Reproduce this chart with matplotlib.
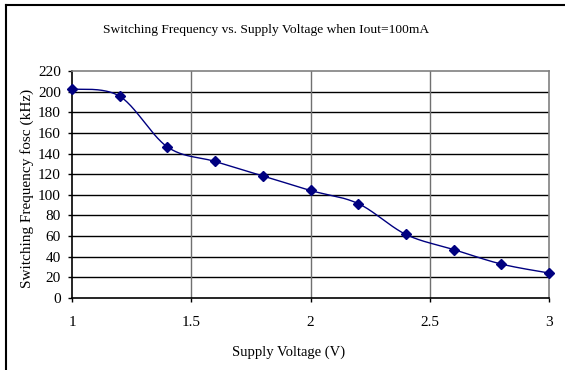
import numpy as np
import matplotlib
matplotlib.use("Agg")
import matplotlib.pyplot as plt
from matplotlib.lines import Line2D

# Measured switching frequency at Iout = 100 mA
voltage = [1.0, 1.2, 1.4, 1.6, 1.8, 2.0, 2.2, 2.4, 2.6, 2.8, 3.0]
freq_khz = [202.6, 195.5, 146.4, 132.3, 118.4, 104.2, 91.5, 61.6, 47.0, 32.9, 24.2]

x_ticks = [1, 1.5, 2, 2.5, 3]
y_ticks = list(range(0, 221, 20))

title = "Switching Frequency vs. Supply Voltage when Iout=100mA"
x_label = "Supply Voltage (V)"
y_label = "Switching Frequency fosc (kHz)"

W, H, DPI = 565, 370, 100
plt.rcParams["font.family"] = ["Liberation Serif", "DejaVu Serif"]

fig = plt.figure(figsize=(W / DPI, H / DPI), dpi=DPI)
ax = fig.add_axes([72 / W, 1 - 298 / H, (549 - 72) / W, (298 - 71) / H])

navy = "#000080"


def smooth_curve(xs, ys, sx, sy, n=40):
    """Bezier smoothing through every point (tension 1/6), done in screen-like units."""
    px = np.asarray(xs, float) * sx
    py = np.asarray(ys, float) * sy
    P = np.column_stack([px, py])
    Pe = np.vstack([P[0], P, P[-1]])
    t = np.linspace(0, 1, n)[:, None]
    out = []
    for i in range(len(P) - 1):
        p0 = Pe[i + 1]
        p3 = Pe[i + 2]
        c1 = p0 + (Pe[i + 2] - Pe[i]) / 6.0
        c2 = p3 - (Pe[i + 3] - Pe[i + 1]) / 6.0
        seg = ((1 - t) ** 3) * p0 + 3 * ((1 - t) ** 2) * t * c1 + 3 * (1 - t) * t ** 2 * c2 + t ** 3 * p3
        out.append(seg if i == 0 else seg[1:])
    out = np.vstack(out)
    return out[:, 0] / sx, out[:, 1] / sy


# scale factors: pixels per data unit on each axis
sx = (549 - 72) / 2.0
sy = (298 - 71) / 220.0
cx, cy = smooth_curve(voltage, freq_khz, sx, sy)

ax.set_xlim(1, 3)
ax.set_ylim(0, 220)
ax.set_xticks(x_ticks)
ax.set_xticklabels(["1", "1.5", "2", "2.5", "3"])
ax.set_yticks(y_ticks)

# grid: black horizontal, grey vertical
for yv in y_ticks[1:-1]:
    ax.axhline(yv, color="black", lw=1.0, zorder=1)
for xv in x_ticks[1:-1]:
    ax.axvline(xv, color="#707070", lw=1.0, zorder=1)

ax.plot(cx, cy, color=navy, lw=1.0, zorder=3, clip_on=False)
ax.plot(voltage, freq_khz, linestyle="none", marker="D", markersize=5,
        color=navy, zorder=4, clip_on=False)

ax.spines["left"].set_color("black")
ax.spines["bottom"].set_color("black")
ax.spines["top"].set_color("#808080")
ax.spines["right"].set_color("#808080")
for s in ax.spines.values():
    s.set_linewidth(1.2)

ax.tick_params(axis="both", direction="out", length=3, width=1, color="black",
               labelsize=11, pad=5)
ax.tick_params(axis="x", pad=10)

# axis titles placed by figure pixel position
fig.text(289 / W, 1 - 352 / H, x_label, ha="center", va="center", fontsize=10.5)
fig.text(27 / W, 1 - 188 / H, y_label, ha="center", va="center", fontsize=11,
         rotation=90)

fig.text(266 / W, 1 - 30 / H, title, ha="center", va="center", fontsize=9.7)

# outer chart-area frame (left and top edges)
fig.add_artist(Line2D([5.5 / W, 5.5 / W], [0, 1 - 4.5 / H], transform=fig.transFigure,
                      color="black", lw=1.5))
fig.add_artist(Line2D([5.5 / W, 1.01], [1 - 4.5 / H, 1 - 4.5 / H], transform=fig.transFigure,
                      color="black", lw=1.5))

fig.savefig("out.png", dpi=DPI)
